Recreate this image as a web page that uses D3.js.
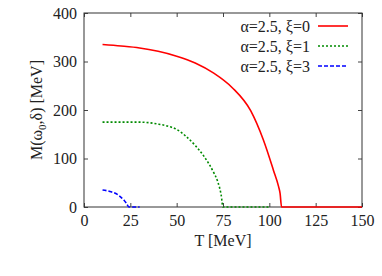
<!DOCTYPE html>
<html>
<head>
<meta charset="utf-8">
<script src="https://cdn.jsdelivr.net/npm/d3@7"></script>
<style>
  body { margin: 0; background: #fff; }
</style>
</head>
<body>
<div id="container"><svg></svg></div>
<script>
let width = 382;
let height = 276;
let fontFamily = "'Liberation Serif', 'DejaVu Serif'";

// series: T [MeV] -> M [MeV]
let t_xi0 = [10, 20, 30, 40, 50, 60, 70, 80, 90, 96.8, 102.2, 105, 105.8, 106.6, 150];
let m_xi0 = [335, 332, 328, 321, 311, 297, 276, 246, 198, 138, 76, 42, 28, 0, 0];
let t_xi1 = [10, 20, 30, 40, 45, 50, 55, 60, 65, 70, 72, 74, 75, 100];
let m_xi1 = [175, 175, 175, 171, 167, 160, 146, 127, 103, 71, 54, 25, 0, 0];
let t_xi3 = [10, 14, 18, 20, 21.6, 23, 24.3, 30];
let m_xi3 = [35, 32, 26, 20, 14, 7, 0, 0];

let x_ticks = [0, 25, 50, 75, 100, 125, 150];
let y_ticks = [0, 100, 200, 300, 400];
let labels = ['\u03b1=2.5, \u03be=0', '\u03b1=2.5, \u03be=1', '\u03b1=2.5, \u03be=3'];
let colors = ['#ff0000', '#008a00', '#0000ff'];
let dashes = [null, '2,2', '4,2'];

function zip(ts, ms) {
    return ts.map((t, i) => ({t: t, m: ms[i]}));
}
let series = [zip(t_xi0, m_xi0), zip(t_xi1, m_xi1), zip(t_xi3, m_xi3)];

function draw_main() {
    let padding = {left: 84, right: width - 362, top: 13, bottom: height - 207};
    let svg = d3.select('#container').select('svg')
        .attr('width', width)
        .attr('height', height)
        .attr('font-family', fontFamily);

    let x = d3.scaleLinear().domain([0, 150]).range([padding.left, width - padding.right]);
    let y = d3.scaleLinear().domain([0, 400]).range([height - padding.bottom, padding.top]);

    // ticks, inward on all four sides
    let tl = 4;
    svg.append('g')
        .attr('transform', `translate(0, ${y(0)})`)
        .call(d3.axisBottom(x).tickValues(x_ticks).tickSizeInner(-tl).tickSizeOuter(0).tickPadding(8))
        .call(g => g.select('.domain').remove())
        .attr('font-size', 16);
    svg.append('g')
        .attr('transform', `translate(0, ${y(400)})`)
        .call(d3.axisTop(x).tickValues(x_ticks).tickSizeInner(-tl).tickSizeOuter(0).tickFormat(''))
        .call(g => g.select('.domain').remove());
    svg.append('g')
        .attr('transform', `translate(${x(0)}, 0)`)
        .call(d3.axisLeft(y).tickValues(y_ticks).tickSizeInner(-tl).tickSizeOuter(0).tickPadding(7))
        .call(g => g.select('.domain').remove())
        .attr('font-size', 16);
    svg.append('g')
        .attr('transform', `translate(${x(150)}, 0)`)
        .call(d3.axisRight(y).tickValues(y_ticks).tickSizeInner(-tl).tickSizeOuter(0).tickFormat(''))
        .call(g => g.select('.domain').remove());
    svg.selectAll('g').attr('font-family', fontFamily);
    svg.selectAll('.tick line').attr('stroke', '#444');
    svg.selectAll('.tick text').attr('fill', '#222');

    // frame
    svg.append('rect')
        .attr('x', x(0)).attr('y', y(400))
        .attr('width', x(150) - x(0)).attr('height', y(0) - y(400))
        .attr('fill', 'none').attr('stroke', '#333').attr('stroke-width', 1);

    // axis labels
    svg.append('text')
        .attr('x', (x(0) + x(150)) / 2).attr('y', 246)
        .attr('text-anchor', 'middle').attr('font-size', 16).attr('fill', '#222')
        .text('T [MeV]');
    let yl = svg.append('text')
        .attr('transform', `translate(42, ${(y(0) + y(400)) / 2}) rotate(-90)`)
        .attr('text-anchor', 'middle').attr('font-size', 16).attr('fill', '#222');
    yl.append('tspan').text('M(\u03c9');
    yl.append('tspan').attr('font-size', 11).attr('dy', 4).text('0');
    yl.append('tspan').attr('dy', -4).text(',\u03b4) [MeV]');

    // curves
    let line = d3.line()
        .x(d => x(d.t))
        .y(d => y(d.m))
        .curve(d3.curveMonotoneX);
    // draw order: blue, green, red on top
    [2, 1, 0].forEach(i => {
        svg.append('path')
            .datum(series[i])
            .attr('d', line)
            .attr('fill', 'none')
            .attr('stroke', colors[i])
            .attr('stroke-width', 1.6)
            .attr('stroke-dasharray', dashes[i]);
    });

    // legend
    let leg = svg.append('g');
    labels.forEach((lab, i) => {
        let ly = 26 + i * 20;
        leg.append('text')
            .attr('x', 310).attr('y', ly + 6)
            .attr('text-anchor', 'end').attr('font-size', 16).attr('fill', '#222')
            .text(lab);
        leg.append('line')
            .attr('x1', 318).attr('x2', 348)
            .attr('y1', ly).attr('y2', ly)
            .attr('stroke', colors[i]).attr('stroke-width', 1.6)
            .attr('stroke-dasharray', dashes[i]);
    });
}

draw_main();
</script>
</body>
</html>
